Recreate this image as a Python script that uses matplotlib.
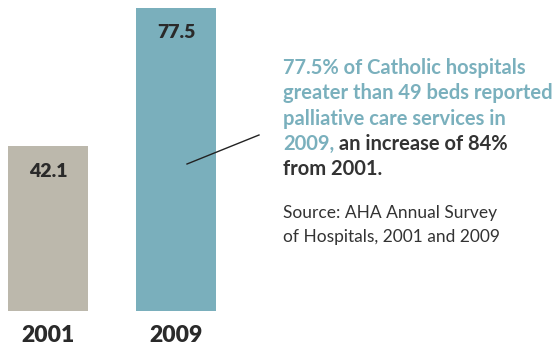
import matplotlib
matplotlib.use('Agg')
import matplotlib.pyplot as plt

years = ['2001', '2009']
values = [42.1, 77.5]
colors = ['#bcb8ac', '#7aafbc']
teal_text = '#7ab0bd'
dark = '#333333'

W, H = 556, 349
fig = plt.figure(figsize=(W/100, H/100), dpi=100)
plt.rcParams['font.family'] = ['Lato', 'DejaVu Sans']

# axes: bottom at y=311px, top at y=8px
ax = fig.add_axes([0, (H-311)/H, 1, 303/H])
ax.bar(range(len(values)), values, width=80/128, color=colors)
ax.set_xlim(-48/128, (W-48)/128)
ax.set_ylim(0, max(values))
ax.axis('off')

for i, v in enumerate(values):
    ax.annotate(f'{v}', (i, v), xytext=(0, -25), textcoords='offset pixels',
                ha='center', va='center', fontsize=14, fontweight='heavy',
                color='#2a2a2a')
    ax.annotate(years[i], (i, 0), xytext=(0, -24), textcoords='offset pixels',
                ha='center', va='center', fontsize=16.5, fontweight='heavy',
                color='#2a2a2a')

# connector line
fig.add_artist(plt.Line2D([187/W, 259/W], [1-164/H, 1-135/H],
                          color='#222222', lw=1))

fs = 14.5
x0 = 283/W
lines = ['77.5% of Catholic hospitals',
         'greater than 49 beds reported',
         'palliative care services in']
ys = [68, 93, 119]
for s, y in zip(lines, ys):
    fig.text(x0, 1-y/H, s, fontsize=fs, fontweight='bold', color=teal_text,
             va='center', ha='left')
t = fig.text(x0, 1-144/H, '2009,', fontsize=fs, fontweight='bold',
             color=teal_text, va='center', ha='left')
ax.annotate(' an increase of 84%', xy=(1, 0.5), xycoords=t, va='center',
            ha='left', fontsize=fs, fontweight='bold', color=dark)
fig.text(x0, 1-169/H, 'from 2001.', fontsize=fs, fontweight='bold',
         color=dark, va='center', ha='left')

fig.text(x0, 1-213/H, 'Source: AHA Annual Survey', fontsize=12.5,
         color=dark, va='center', ha='left')
fig.text(x0, 1-237/H, 'of Hospitals, 2001 and 2009', fontsize=12.5,
         color=dark, va='center', ha='left')

fig.savefig('out.png', dpi=100)
